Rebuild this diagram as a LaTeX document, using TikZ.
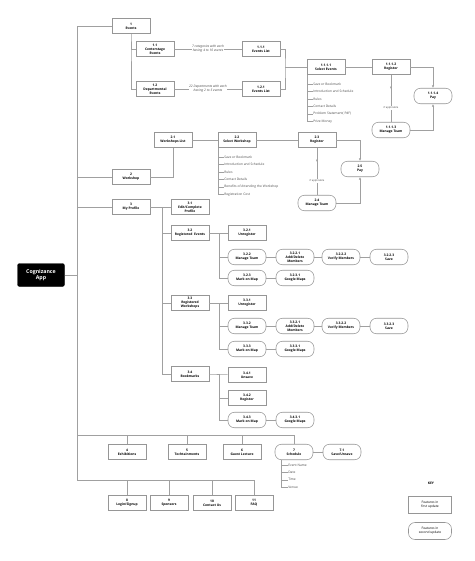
\documentclass[tikz,border=0pt]{standalone}
\usepackage{fontspec}
\setmainfont{Open Sans}
\usetikzlibrary{arrows.meta,decorations.markings}
\definecolor{linegray}{HTML}{A0A0A0}
\definecolor{boxgray}{HTML}{969696}
\definecolor{textgray}{HTML}{4A4A4A}

\begin{document}
\begin{tikzpicture}[x=2pt,y=-2pt]
  \tikzset{featbox/.style={rectangle,draw=boxgray,line width=1.1pt,fill=white,minimum width=76pt,minimum height=31pt,inner sep=1pt,align=center,font=\fontsize{6.6}{7.9}\selectfont\bfseries}}
  \tikzset{featpill/.style={featbox,rounded corners=13pt}}
  \tikzset{rootbox/.style={rectangle,fill=black,draw=black,rounded corners=4pt,minimum width=94pt,minimum height=46pt,inner sep=1pt,align=center,text=white,font=\fontsize{10.5}{11}\selectfont\bfseries}}
  \tikzset{link/.style={draw=linegray,line width=1.1pt}}
  \tikzset{arrowlink/.style={link,-{Latex[length=5pt,width=4.5pt]}}}
  \tikzset{midarrow/.style={postaction={decorate},decoration={markings,mark=at position 0.3 with {\arrow[linegray]{Latex[length=5pt,width=4.5pt]}}}}}
  \tikzset{listitem/.style={anchor=west,inner sep=0.5pt,text=textgray,font=\fontsize{6.5}{7}\selectfont}}
  \tikzset{edgelabel/.style={inner sep=1pt,fill=white,align=center,text=textgray,font=\fontsize{6.5}{7.4}\selectfont\itshape}}
  \tikzset{smalllabel/.style={inner sep=1pt,fill=white,text=textgray,font=\fontsize{5.2}{6}\selectfont}}
  \useasboundingbox (0,0) rectangle (474,561);
  % root
  \node[rootbox] (app) at (41,275) {Cognizance\\App};
  % 1 events
  \node[featbox] (n1) at (131,26) {1\\Events};
  \node[featbox] (n11) at (155,49) {1.1\\Centerstage\\Events};
  \node[featbox] (n12) at (155,89) {1.2\\Departmental\\Events};
  \node[featbox] (n111) at (261,49) {1.1.1\\Events List};
  \node[featbox] (n121) at (261,89) {1.2.1\\Events List};
  \node[featbox] (n1111) at (326,67) {1.1.1.1\\Select Events};
  \node[featbox] (n1112) at (391,67) {1.1.1.2\\Register};
  \node[featpill] (n1113) at (391,130) {1.1.1.3\\Manage Team};
  \node[featpill] (n1114) at (433,96) {1.1.1.4\\Pay};
  % 2 workshop
  \node[featbox] (n2) at (131,177) {2\\Workshop};
  \node[featbox] (n21) at (173,140) {2.1\\Workshops List};
  \node[featbox] (n22) at (237,140) {2.2\\Select Workshop};
  \node[featbox] (n23) at (317,140) {2.3\\Register};
  \node[featpill] (n24) at (317,203) {2.4\\Manage Team};
  \node[featpill] (n25) at (360,169) {2.5\\Pay};
  % 3 my profile
  \node[featbox] (n3) at (131,207) {3\\My Profile};
  \node[featbox] (n31) at (190,207) {3.1\\Edit/Complete\\Profile};
  \node[featbox] (n32) at (190,233) {3.2\\Registered\ \ Events};
  \node[featbox] (n321) at (247,233) {3.2.1\\Unregister};
  \node[featpill] (n322) at (247,257) {3.2.2\\Manage Team};
  \node[featpill] (n3221) at (295,257) {3.2.2.1\\Add/Delete\\Members};
  \node[featpill] (n3222) at (341,257) {3.2.2.2\\Verify Members};
  \node[featpill] (n3223) at (389,257) {3.2.2.3\\Save};
  \node[featpill] (n323) at (247,278) {3.2.3\\Mark on Map};
  \node[featpill] (n3231) at (295,278) {3.2.3.1\\Google Maps};
  \node[featbox] (n33) at (190,303) {3.3\\Registered\\Workshops};
  \node[featbox] (n331) at (247,303) {3.3.1\\Unregister};
  \node[featpill] (n332) at (247,326) {3.3.2\\Manage Team};
  \node[featpill] (n3321) at (295,326) {3.3.2.1\\Add/Delete\\Members};
  \node[featpill] (n3322) at (341,326) {3.3.2.2\\Verify Members};
  \node[featpill] (n3323) at (389,326) {3.3.2.3\\Save};
  \node[featpill] (n333) at (247,349) {3.3.3\\Mark on Map};
  \node[featpill] (n3331) at (295,349) {3.3.3.1\\Google Maps};
  \node[featbox] (n34) at (190,374) {3.4\\Bookmarks};
  \node[featbox] (n341) at (247,375) {3.4.1\\Unsave};
  \node[featbox] (n342) at (247,398) {3.4.2\\Register};
  \node[featpill] (n343) at (247,420) {3.4.3\\Mark on Map};
  \node[featpill] (n3431) at (295,420) {3.4.3.1\\Google Maps};
  % 4 to 11
  \node[featbox] (exhib) at (127,452) {4\\Exhibitions};
  \node[featbox] (techt) at (187,452) {5\\Techtainments};
  \node[featbox] (guest) at (242,452) {6\\Guest Lecture};
  \node[featpill] (sched) at (294,452) {7\\Schedule};
  \node[featpill] (schedsave) at (342,452) {7.1\\Save/Unsave};
  \node[featbox] (login) at (127,503) {8\\Login/Signup};
  \node[featbox] (sponsors) at (169,503) {9\\Sponsors};
  \node[featbox] (contact) at (212,503) {10\\Contact Us};
  \node[featbox] (faq) at (254,503) {11\\FAQ};
  % key
  \node[font=\fontsize{6.6}{7}\selectfont\bfseries] (keytitle) at (431,483) {KEY};
  \node[featbox,minimum width=86pt,minimum height=34pt,font=\fontsize{6.5}{8.2}\selectfont] (keyfirst) at (430,505) {Features in\\first update};
  \node[featpill,minimum width=86pt,minimum height=34pt,font=\fontsize{6.5}{8.2}\selectfont] (keysecond) at (430,531) {Features in\\second update};
  % trunk
  \coordinate (trunktop) at (77,26);
  \coordinate (trunkbot) at (77,480);
  \coordinate (rowmid) at (77,435);
  \draw[link] (n1.west) -- (trunktop) -- (trunkbot) -| (faq.north);
  \draw[link] (app.east) -- (app.east -| trunktop);
  \draw[link] (n2.west) -- (n2.west -| trunktop);
  \draw[link] (n3.west) -- (n3.west -| trunktop);
  \draw[link] (rowmid) -| (sched.north);
  \foreach \n in {exhib,techt,guest}
    \draw[link] (\n.north) -- (\n.north |- rowmid);
  \foreach \n in {login,sponsors,contact}
    \draw[link] (\n.north) -- (\n.north |- trunkbot);
  % events branch
  \draw[link] (n11.west) -| (n1.south) |- (n12.west);
  \draw[link] (n11) -- node[edgelabel] (lab11) {7 categories with each\\having 4 to 10 events} (n111);
  \draw[link] (n12) -- node[edgelabel] (lab12) {22 Departments with each\\having 2 to 5 events} (n121);
  \coordinate (evjoin) at (285,67);
  \draw[link] (n111.east) -| (evjoin) |- (n121.east);
  \draw[link] (evjoin) -- (n1111.west);
  \draw[link] (n1111) -- (n1112);
  \draw[arrowlink] (n1112.east) -| (n1114.north);
  \draw[arrowlink] (n1113.east) -| (n1114.south);
  \draw[link,midarrow] (n1112.south) -- (n1113.north) node[pos=0.7,smalllabel] (app1) {if applicable};
  \coordinate (sellist) at ([xshift=2pt]n1111.south west);
  \foreach \txt [count=\i] in {Save or Bookmark,Introduction and Schedule,Rules,Contact Details,Problem Statement( PdF),Prize Money}
    \node[listitem] (sel\i) at (313,{76.5+7.5*\i}) {\txt};
  \foreach \i in {1,...,6}
    \draw[link] (sellist) |- (sel\i.west);
  % workshop branch
  \draw[link] (n2.east) -| (n21.south);
  \draw[link] (n21) -- (n22);
  \draw[link] (n22) -- (n23);
  \draw[arrowlink] (n23.east) -| (n25.north);
  \draw[arrowlink] (n24.east) -| (n25.south);
  \draw[link,midarrow] (n23.south) -- (n24.north) node[pos=0.7,smalllabel] (app2) {if applicable};
  \coordinate (wslist) at ([xshift=2pt]n22.south west);
  \foreach \txt [count=\i] in {Save or Bookmark,Introduction and Schedule,Rules,Contact Details,Benefits of Attending the Workshop,Registration Cost}
    \node[listitem] (ws\i) at (224,{149.5+7.5*\i}) {\txt};
  \foreach \i in {1,...,6}
    \draw[link] (wslist) |- (ws\i.west);
  % profile branch
  \draw[link] (n3) -- (n31);
  \coordinate (projoin) at (162,207);
  \foreach \n in {n32,n33,n34}
    \draw[link] (projoin) |- (\n.west);
  \draw[link] (n32) -- (n321);
  \coordinate (regjoin) at (219,233);
  \draw[link] (regjoin) |- (n322.west);
  \draw[link] (regjoin) |- (n323.west);
  \draw[link] (n322) -- (n3221) -- (n3222) -- (n3223);
  \draw[link] (n323) -- (n3231);
  \draw[link] (n33) -- (n331);
  \coordinate (wsjoin) at (219,303);
  \draw[link] (wsjoin) |- (n332.west);
  \draw[link] (wsjoin) |- (n333.west);
  \draw[link] (n332) -- (n3321) -- (n3322) -- (n3323);
  \draw[link] (n333) -- (n3331);
  \draw[link] (n34) -- (n341);
  \coordinate (bmjoin) at (219,374);
  \draw[link] (bmjoin) |- (n342.west);
  \draw[link] (bmjoin) |- (n343.west);
  \draw[link] (n343) -- (n3431);
  % schedule
  \draw[link] (sched) -- (schedsave);
  \coordinate (schlist) at ([xshift=14pt]sched.south west);
  \foreach \txt [count=\i] in {Event Name,Date,Time,Venue}
    \node[listitem] (sch\i) at (288,{457.6+7.4*\i}) {\txt};
  \foreach \i in {1,...,4}
    \draw[link] (schlist) |- (sch\i.west);
\end{tikzpicture}
\end{document}
